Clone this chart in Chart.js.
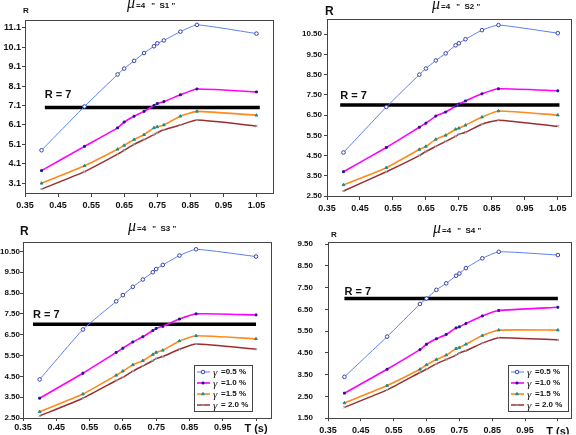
<!DOCTYPE html>
<html>
<head>
<meta charset="utf-8">
<script src="https://cdn.jsdelivr.net/npm/chart.js@4.4.1/dist/chart.umd.min.js"></script>
<style>
    body { margin: 0; background: #fff; width: 576px; height: 435px; overflow: hidden; position: relative; }
    canvas { position: absolute; }
</style>
</head>
<body>
<canvas id="chartS1" style="left:0;top:0" width="286" height="215"></canvas>
<canvas id="chartS2" style="left:286px;top:0" width="290" height="215"></canvas>
<canvas id="chartS3" style="left:0;top:215px" width="286" height="220"></canvas>
<canvas id="chartS4" style="left:286px;top:215px" width="290" height="220"></canvas>
<script>
// periods T (s), shared by every curve
const periods = [0.40, 0.53, 0.63, 0.65, 0.68, 0.71, 0.74, 0.75, 0.77, 0.82, 0.87, 1.05];

const gammaLabels = ["=0.5 %", "=1.0 %", "=1.5 %", "= 2.0 %"];

// R values, soil S1
const s1g05 = [4.80, 7.05, 8.70, 9.00, 9.40, 9.80, 10.15, 10.30, 10.45, 10.90, 11.25, 10.80];
const s1g10 = [3.75, 5.00, 5.95, 6.25, 6.55, 6.80, 7.10, 7.20, 7.30, 7.65, 7.95, 7.80];
const s1g15 = [3.10, 4.00, 4.85, 5.05, 5.35, 5.60, 5.95, 6.00, 6.10, 6.55, 6.80, 6.60];
const s1g20 = [2.80, 3.70, 4.60, 4.80, 5.10, 5.35, 5.60, 5.70, 5.85, 6.10, 6.35, 6.05];

// soil S2
const s2g05 = [4.65, 6.90, 8.50, 8.80, 9.20, 9.55, 9.95, 10.05, 10.25, 10.70, 10.95, 10.55];
const s2g10 = [3.70, 4.90, 5.90, 6.10, 6.45, 6.65, 6.95, 7.05, 7.20, 7.55, 7.80, 7.70];
const s2g15 = [3.05, 3.90, 4.80, 4.95, 5.30, 5.50, 5.80, 5.85, 6.00, 6.40, 6.70, 6.50];
const s2g20 = [2.75, 3.70, 4.50, 4.70, 4.95, 5.20, 5.45, 5.55, 5.65, 6.05, 6.25, 5.95];

// soil S3
const s3g05 = [4.35, 6.75, 8.10, 8.40, 8.80, 9.15, 9.50, 9.65, 9.85, 10.30, 10.60, 10.25];
const s3g10 = [3.45, 4.65, 5.65, 5.85, 6.15, 6.40, 6.70, 6.80, 6.90, 7.25, 7.50, 7.45];
const s3g15 = [2.80, 3.65, 4.55, 4.75, 5.05, 5.25, 5.55, 5.65, 5.75, 6.20, 6.45, 6.30];
const s3g20 = [2.60, 3.45, 4.30, 4.45, 4.75, 5.00, 5.25, 5.35, 5.45, 5.80, 6.05, 5.80];

// soil S4
const s4g05 = [3.40, 5.25, 6.75, 7.00, 7.40, 7.70, 8.05, 8.15, 8.40, 8.85, 9.15, 9.00];
const s4g10 = [2.65, 3.75, 4.65, 4.90, 5.15, 5.35, 5.65, 5.70, 5.85, 6.20, 6.45, 6.60];
const s4g15 = [2.20, 3.00, 3.75, 3.95, 4.20, 4.40, 4.70, 4.75, 4.90, 5.30, 5.55, 5.55];
const s4g20 = [2.00, 2.80, 3.60, 3.75, 4.00, 4.20, 4.40, 4.50, 4.60, 4.95, 5.20, 5.10];

// limit R = 7
const rLimit = [7, 7];
const rLineS1 = [0.41, 1.06];
const rLineS2 = [0.39, 1.055];
const rLineS3 = [0.38, 1.05];
const rLineS4 = [0.40, 1.05];

// axis ticks
const xTicks = [0.35, 0.45, 0.55, 0.65, 0.75, 0.85, 0.95, 1.05];
const xLabelsTop = ["0.35", "0.45", "0.55", "0.65", "0.75", "0.85", "0.95", "1.05"];
const xLabelsBottom = ["0.35", "0.45", "0.55", "0.65", "0.75", "0.85", "0.95", "T (s)"];
const yTicksS1 = [3.1, 4.1, 5.1, 6.1, 7.1, 8.1, 9.1, 10.1, 11.1];
const yTicksS2 = [2.5, 3.5, 4.5, 5.5, 6.5, 7.5, 8.5, 9.5, 10.5];
const yTicksS3 = [2.5, 3.5, 4.5, 5.5, 6.5, 7.5, 8.5, 9.5, 10.5];
const yTicksS4 = [1.5, 2.5, 3.5, 4.5, 5.5, 6.5, 7.5, 8.5, 9.5];

const SANS = '"Liberation Sans", Arial, sans-serif';
const SERIF = '"Liberation Serif", "Times New Roman", serif';

const styles = [
    { borderColor: "#5a7ff0", borderWidth: 1, pointStyle: "circle", pointRadius: 1.8, pointBackgroundColor: "#fff", pointBorderColor: "#3540a8" },
    { borderColor: "#ff00ff", borderWidth: 1.6, pointStyle: "rect", pointRadius: 1.3, pointBackgroundColor: "#1a1a8a", pointBorderColor: "#1a1a8a" },
    { borderColor: "#ff8a1e", borderWidth: 1.6, pointStyle: "triangle", pointRadius: 1.6, pointBackgroundColor: "#178f8f", pointBorderColor: "#178f8f" },
    { borderColor: "#9a2f2f", borderWidth: 1.5, pointStyle: "crossRot", pointRadius: 1.5, pointBackgroundColor: "#aaa", pointBorderColor: "#999" }
];

function points(xs, ys) {
    return xs.map((x, i) => ({ x, y: ys[i] }));
}

function makeDatasets(series, rLine) {
    const sets = series.map((values, i) => Object.assign({
        label: gammaLabels[i],
        gamma: true,
        data: points(periods, values),
        tension: 0.15,
        pointBorderWidth: 1
    }, styles[i]));
    sets.push({
        label: "R = 7",
        data: points(rLine, rLimit),
        borderColor: "#000",
        borderWidth: 3.5,
        pointRadius: 0
    });
    return sets;
}

function drawTitle(ctx, name, x, y) {
    ctx.fillStyle = "#111";
    ctx.textBaseline = "alphabetic";
    ctx.textAlign = "left";
    ctx.font = "italic 16px " + SERIF;
    ctx.fillText("\u03bc", x, y);
    x += ctx.measureText("\u03bc").width + 1;
    ctx.font = "bold 8px " + SANS;
    ctx.fillText("=4", x, y);
    x += ctx.measureText("=4").width + 6;
    ctx.fillText("\"  " + name + " \"", x, y);
}

function drawKey(chart, box) {
    const ctx = chart.ctx;
    ctx.fillStyle = "#fff";
    ctx.fillRect(box.x, box.y, box.w, box.h);
    ctx.strokeStyle = "#444";
    ctx.lineWidth = 1;
    ctx.strokeRect(box.x + 0.5, box.y + 0.5, box.w, box.h);
    chart.data.datasets.filter(d => d.gamma).forEach((d, i) => {
        const y = box.y + 7 + i * box.row;
        ctx.strokeStyle = d.borderColor;
        ctx.lineWidth = d.borderWidth;
        ctx.beginPath();
        ctx.moveTo(box.x + 3, y);
        ctx.lineTo(box.x + 16, y);
        ctx.stroke();
        ctx.fillStyle = d.pointBackgroundColor;
        ctx.strokeStyle = d.pointBorderColor;
        ctx.lineWidth = 1;
        Chart.helpers.drawPoint(ctx, { pointStyle: d.pointStyle, radius: d.pointRadius, borderWidth: 1, rotation: 0 }, box.x + 9, y);
        ctx.fillStyle = "#111";
        ctx.textBaseline = "middle";
        ctx.font = "italic 11px " + SERIF;
        ctx.fillText("\u03b3", box.x + 19, y + 1);
        ctx.font = "bold 8px " + SANS;
        ctx.fillText(d.label, box.x + 27, y);
    });
}

const panelDecor = {
    id: "panelDecor",
    afterDraw(chart, args, opts) {
        const { ctx, chartArea: a, scales } = chart;
        ctx.save();
        ctx.strokeStyle = "#444";
        ctx.lineWidth = 1;
        ctx.strokeRect(Math.round(a.left) + 0.5, Math.round(a.top) + 0.5, Math.round(a.right - a.left), Math.round(a.bottom - a.top));

        drawTitle(ctx, opts.name, opts.titleX, opts.titleY);

        ctx.fillStyle = "#111";
        ctx.textAlign = "left";
        ctx.textBaseline = "alphabetic";
        ctx.font = "bold " + opts.rSize + "px " + SANS;
        ctx.fillText("R", opts.rX, opts.rY);

        const line = chart.data.datasets[chart.data.datasets.length - 1];
        ctx.font = "bold 11px " + SANS;
        ctx.fillText(line.label, scales.x.getPixelForValue(line.data[0].x), scales.y.getPixelForValue(line.data[0].y) - opts.noteGap);

        if (opts.key) drawKey(chart, opts.key);
        ctx.restore();
    }
};

function pickTicks(list) {
    return scale => {
        scale.ticks = list
            .filter(v => v >= scale.min - 1e-9 && v <= scale.max + 1e-9)
            .map(v => ({ value: v }));
    };
}

function makeChart(id, cfg) {
    const tickFont = { family: SANS, size: 9, weight: "bold" };
    return new Chart(document.getElementById(id), {
        type: "line",
        data: { datasets: makeDatasets(cfg.series, cfg.rLine) },
        plugins: [panelDecor],
        options: {
            responsive: false,
            animation: false,
            layout: { padding: { left: 0, right: cfg.padRight, top: cfg.padTop, bottom: 0 } },
            plugins: {
                legend: { display: false },
                tooltip: { enabled: false },
                panelDecor: cfg.decor
            },
            scales: {
                x: {
                    type: "linear",
                    min: cfg.xMin,
                    max: cfg.xMax,
                    afterBuildTicks: pickTicks(xTicks),
                    afterFit: scale => { scale.height = cfg.xHeight; },
                    grid: { drawOnChartArea: false, tickLength: cfg.xTickLen, color: "#444" },
                    border: { color: "#444" },
                    ticks: {
                        autoSkip: false,
                        maxRotation: 0,
                        minRotation: 0,
                        padding: cfg.xPad,
                        color: "#111",
                        font: ctx => (cfg.xLabels[ctx.index] === "T (s)")
                            ? { family: SANS, size: 11, weight: "bold" }
                            : tickFont,
                        callback: value => {
                            const i = xTicks.findIndex(t => Math.abs(t - value) < 1e-6);
                            return i < 0 ? "" : cfg.xLabels[i];
                        }
                    }
                },
                y: {
                    min: cfg.yMin,
                    max: cfg.yMax,
                    afterBuildTicks: pickTicks(cfg.yTicks),
                    afterFit: scale => { scale.width = cfg.yWidth; },
                    grid: { drawOnChartArea: false, tickLength: 3, color: "#444" },
                    border: { color: "#444" },
                    ticks: {
                        padding: cfg.yPad,
                        color: "#111",
                        font: { family: SANS, size: cfg.yFont, weight: "bold" },
                        callback: value => value.toFixed(cfg.yDigits)
                    }
                }
            }
        }
    });
}

makeChart("chartS1", {
    series: [s1g05, s1g10, s1g15, s1g20], rLine: rLineS1,
    xMin: 0.35, xMax: 1.1, yMin: 2.6, yMax: 11.5, yTicks: yTicksS1, yDigits: 1, yFont: 9, xLabels: xLabelsTop,
    padRight: 13, padTop: 20, xHeight: 22, yWidth: 25, xTickLen: 4, xPad: 3, yPad: 1,
    decor: { name: "S1", titleX: 127, titleY: 8, rX: 23, rY: 13, rSize: 8, noteGap: 9 }
});

makeChart("chartS2", {
    series: [s2g05, s2g10, s2g15, s2g20], rLine: rLineS2,
    xMin: 0.35, xMax: 1.09, yMin: 2.5, yMax: 11.25, yTicks: yTicksS2, yDigits: 2, yFont: 8, xLabels: xLabelsTop,
    padRight: 3, padTop: 19, xHeight: 19, yWidth: 41, xTickLen: 4, xPad: 3, yPad: 2,
    decor: { name: "S2", titleX: 146, titleY: 9, rX: 39, rY: 15, rSize: 12, noteGap: 6 }
});

makeChart("chartS3", {
    series: [s3g05, s3g10, s3g15, s3g20], rLine: rLineS3,
    xMin: 0.35, xMax: 1.095, yMin: 2.5, yMax: 10.95, yTicks: yTicksS3, yDigits: 2, yFont: 8, xLabels: xLabelsBottom,
    padRight: 15, padTop: 27, xHeight: 17, yWidth: 23, xTickLen: 3, xPad: 1, yPad: 0,
    decor: { name: "S3", titleX: 128, titleY: 16, rX: 20, rY: 20, rSize: 12, noteGap: 6,
             key: { x: 194, y: 150, w: 58, h: 46, row: 11 } }
});

makeChart("chartS4", {
    series: [s4g05, s4g10, s4g15, s4g20], rLine: rLineS4,
    xMin: 0.35, xMax: 1.09, yMin: 1.5, yMax: 9.6, yTicks: yTicksS4, yDigits: 2, yFont: 8, xLabels: xLabelsBottom,
    padRight: 3, padTop: 27, xHeight: 16, yWidth: 42, xTickLen: 3, xPad: 4, yPad: 12,
    decor: { name: "S4", titleX: 147, titleY: 18, rX: 45, rY: 22, rSize: 8, noteGap: 4,
             key: { x: 222, y: 150, w: 60, h: 46, row: 11 } }
});
</script>
</body>
</html>
